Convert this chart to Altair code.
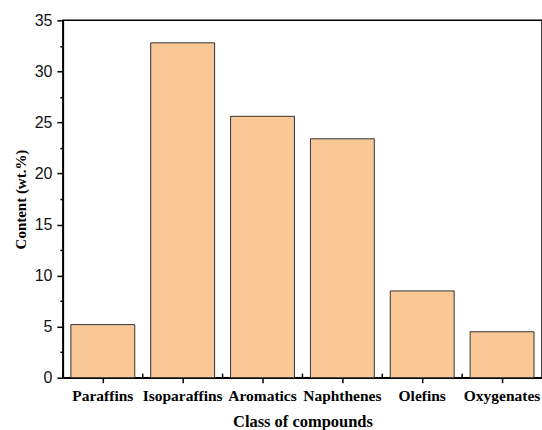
import altair as alt
import pandas as pd

categories = ["Paraffins", "Isoparaffins", "Aromatics", "Naphthenes", "Olefins", "Oxygenates"]
values = [5.2, 32.8, 25.6, 23.4, 8.5, 4.5]

df = pd.DataFrame({"cat": categories, "val": values})

x_enc = alt.X("cat:N", sort=categories,
              scale=alt.Scale(paddingInner=0.2, paddingOuter=0.1),
              axis=alt.Axis(title="Class of compounds", labelAngle=0,
                            labelFont="Liberation Serif", labelFontWeight="bold",
                            labelFontSize=15.5, labelColor="black", labelPadding=6,
                            titleFont="Liberation Serif", titleFontWeight="bold",
                            titleFontSize=16.5, titleColor="black", titlePadding=9,
                            domainColor="black", domainWidth=1.5,
                            tickColor="black", tickWidth=1.5, tickSize=5))

bars = alt.Chart(df).mark_bar(color="#F9C896", stroke="#333333", strokeWidth=1).encode(
    x=x_enc,
    y=alt.Y("val:Q", scale=alt.Scale(domain=[0, 35], nice=False),
            axis=alt.Axis(title="Content (wt.%)",
                          values=[i * 2.5 for i in range(15)],
                          labelExpr="datum.value % 5 === 0 ? datum.label : ''",
                          labelFont="Liberation Sans", labelFontSize=16, labelColor="#111111",
                          labelPadding=5,
                          titleFont="Liberation Serif", titleFontWeight="bold",
                          titleFontSize=15, titleColor="black", titlePadding=6,
                          domainColor="black", domainWidth=1.5,
                          tickColor="black", tickWidth=1.5,
                          tickSize={"condition": {"test": "datum.value % 5 === 0", "value": 6}, "value": 3},
                          grid=False)),
)

edges = alt.Chart(df).mark_rule(color="black", strokeWidth=1.5, xOffset=-8).encode(
    x=alt.X("cat:N", sort=categories, bandPosition=0),
    y=alt.value(358),
    y2=alt.value(354),
)

chart = alt.layer(bars, edges).properties(
    width=480, height=358,
    padding={"left": 63, "top": 20, "right": 0, "bottom": 52},
    autosize=alt.AutoSizeParams(type="none"),
).configure_view(stroke="black", strokeWidth=1.5).configure_axis(grid=False)

chart.save("out.html", embed_options={"renderer": "svg", "actions": False})
